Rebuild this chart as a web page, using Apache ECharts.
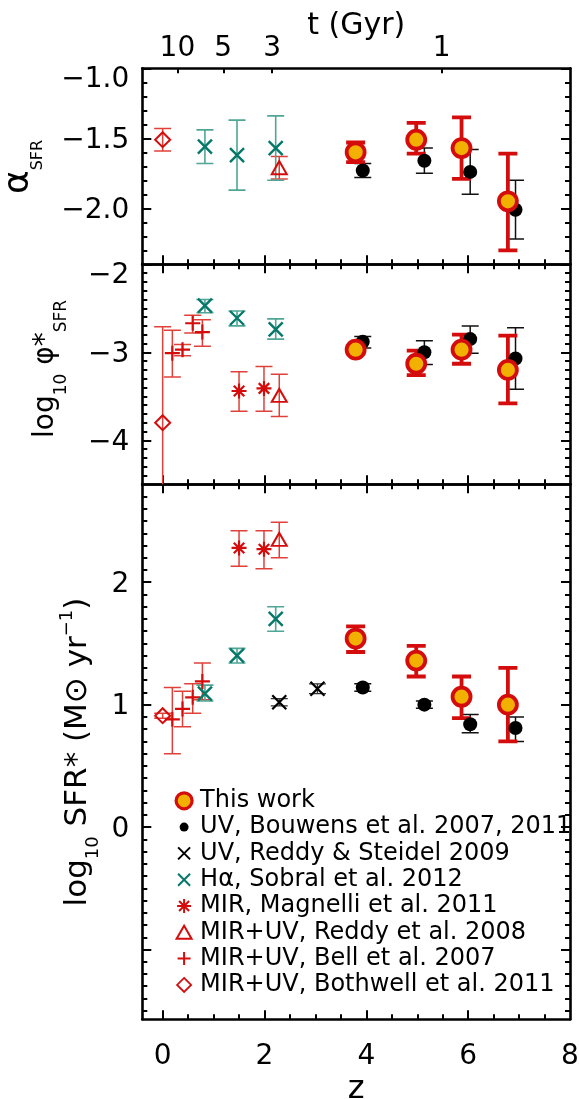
<!DOCTYPE html>
<html><head><meta charset="utf-8">
<script src="https://cdn.jsdelivr.net/npm/echarts@6/dist/echarts.min.js"></script>
<style>html,body{margin:0;padding:0;background:#fff}#c{width:579px;height:1099px}</style>
</head><body><div id="c"></div>
<script>
// ---------- data rows: [z, value, lower, upper] ----------
const thisWorkAlpha = [[3.79,-1.60,-1.67,-1.53],[4.98,-1.51,-1.61,-1.39],[5.87,-1.57,-1.79,-1.35],[6.78,-1.95,-2.30,-1.61]];
const thisWorkPhi   = [[3.79,-2.97,-3.01,-2.93],[4.98,-3.13,-3.26,-2.98],[5.87,-2.97,-3.13,-2.80],[6.78,-3.20,-3.58,-2.81]];
const thisWorkSfr   = [[3.79,1.54,1.43,1.64],[4.98,1.36,1.23,1.48],[5.87,1.065,0.89,1.23],[6.78,1.00,0.70,1.30]];
const bouwensAlpha  = [[3.93,-1.73,-1.78,-1.68],[5.14,-1.66,-1.75,-1.57],[6.04,-1.74,-1.90,-1.58],[6.93,-2.01,-2.22,-1.80]];
const bouwensPhi    = [[3.93,-2.88,-2.95,-2.82],[5.14,-3.00,-3.14,-2.87],[6.04,-2.85,-3.01,-2.70],[6.93,-3.07,-3.42,-2.72]];
const bouwensSfr    = [[3.93,1.14,1.11,1.17],[5.14,1.00,0.97,1.03],[6.04,0.84,0.77,0.92],[6.93,0.81,0.70,0.90]];
const reddySteidelSfr = [[2.29,1.02,0.99,1.05],[3.04,1.13,1.09,1.17]];
const sobralAlpha   = [[0.83,-1.56,-1.68,-1.44],[1.46,-1.62,-1.87,-1.37],[2.22,-1.57,-1.80,-1.34]];
const sobralPhi     = [[0.83,-2.47,-2.55,-2.40],[1.46,-2.61,-2.70,-2.53],[2.22,-2.74,-2.85,-2.62]];
const sobralSfr     = [[0.83,1.09,1.03,1.16],[1.46,1.40,1.34,1.46],[2.22,1.70,1.60,1.80]];
const magnelliPhi   = [[1.50,-3.44,-3.67,-3.22],[1.99,-3.41,-3.67,-3.16]];
const magnelliSfr   = [[1.50,2.28,2.13,2.42],[1.99,2.27,2.11,2.42]];
const reddy08Alpha  = [[2.29,-1.71,-1.79,-1.63]];
const reddy08Phi    = [[2.29,-3.49,-3.73,-3.25]];
const reddy08Sfr    = [[2.29,2.35,2.20,2.49]];
const bellPhi       = [[0.19,-3.01,-3.28,-2.75],[0.39,-2.97,-3.04,-2.91],[0.59,-2.67,-2.78,-2.58],[0.78,-2.77,-2.93,-2.63]];
const bellSfr       = [[0.19,0.88,0.60,1.14],[0.39,0.965,0.82,1.11],[0.59,1.06,0.93,1.17],[0.78,1.19,1.04,1.34]];
const bothwellAlpha = [[0.0,-1.51,-1.59,-1.43]];
const bothwellPhi   = [[0.0,-3.80,-5.0,-2.71]];
const bothwellSfr   = [[0.0,0.91,0.89,0.93]];

// ---------- tick values / labels ----------
const zMajor = [0,2,4,6];
const zLabels = [0,2,4,6,8];
const zMinor = [0.5,1,1.5,2.5,3,3.5,4.5,5,5.5,6.5,7,7.5];
const tPos = [0.29,1.19,2.15,5.48];
const tLabels = ['10','5','3','1'];
const alphaMajor = [-1.0,-1.5,-2.0];
const phiMajor = [-2,-3,-4];
const sfrMajor = [2,1,0,-1];
const sfrLabels = [2,1,0];

const legendNames = ['This work','UV, Bouwens et al. 2007, 2011','UV, Reddy & Steidel 2009','H\u03b1, Sobral et al. 2012',
  'MIR, Magnelli et al. 2011','MIR+UV, Reddy et al. 2008','MIR+UV, Bell et al. 2007','MIR+UV, Bothwell et al. 2011'];

// ---------- styling ----------
const FONT = 'DejaVu Sans';
const RED = '#d40c0c', ORANGE = '#f2b100', TEAL = '#05786a', TEAL_ERR = '#4fa596', RED_ERR = '#e0403a', BLK_ERR = '#111';
const FRAME = 2.6;
const X0 = 142.3, W = 427.7;
const grids = [
  {left:X0, width:W, top:68.3, height:196, containLabel:false, outerBoundsMode:'none'},
  {left:X0, width:W, top:264.3, height:220, containLabel:false, outerBoundsMode:'none'},
  {left:X0, width:W, top:484.3, height:535, containLabel:false, outerBoundsMode:'none'}
];
const yRanges = [[-2.4,-1.0],[-4.5,-2.0],[-1.57,2.8]];
const yMajors = [alphaMajor, phiMajor, sfrMajor];

function minorTicks(lo, hi, step, majors){
  const out=[];
  for (let k=Math.ceil(lo/step-1e-9); k*step<=hi+1e-9; k++){
    const v = +(k*step).toFixed(4);
    if (v>lo+1e-6 && v<hi-1e-6 && !majors.some(m=>Math.abs(m-v)<1e-6)) out.push(v);
  }
  return out;
}
const richLab = {
  n:{fontSize:28, fontFamily:FONT, color:'#000', padding:[5,0,0,0]},
  t:{fontSize:28, fontFamily:FONT, color:'#000', padding:[23,0,0,0]}
};
const yFormat = [
  v => (Math.abs(v+1)<1e-6 ? '{t|' : '{n|') + v.toFixed(1).replace('-','\u2212') + '}',
  v => (Math.abs(v+2)<1e-6 ? '{t|' : '{n|') + String(v).replace('-','\u2212') + '}',
  v => '{n|' + String(v) + '}'
];
const yLabelVals = [alphaMajor, phiMajor, sfrLabels];

function axisBase(g, pos, min, max, ticks, len, lineShow){
  return {type:'value', gridIndex:g, position:pos, min, max, splitLine:{show:false},
    axisLine:{show:lineShow, onZero:false, lineStyle:{color:'#000', width:FRAME}},
    axisTick:{show:true, inside:true, length:len, customValues:ticks, lineStyle:{color:'#000', width:2}},
    axisLabel:{show:false}, axisPointer:{show:false}};
}

const xAxis = [], yAxis = [], AX = [];
for (let g=0; g<3; g++){
  const xi = xAxis.length;
  const bx = axisBase(g,'bottom',-0.4,8.0,zMajor,9,true);
  if (g===2){
    bx.axisLabel = {show:true, customValues:zLabels, margin:23, color:'#000', fontSize:28, fontFamily:FONT};
    bx.name = 'z'; bx.nameLocation = 'middle'; bx.nameGap = 54; bx.nameMoveOverlap = false;
    bx.nameTextStyle = {fontSize:32, fontFamily:FONT, color:'#000'};
  }
  xAxis.push(bx);
  xAxis.push(axisBase(g,'bottom',-0.4,8.0,zMinor,5,false));
  if (g===0){
    const tx = axisBase(g,'top',-0.4,8.0,tPos,5,true);
    tx.axisLabel = {show:true, customValues:tPos, margin:6, color:'#000', fontSize:28, fontFamily:FONT,
      formatter: v => { let b=0; tPos.forEach((p,i)=>{ if (Math.abs(p-v)<Math.abs(tPos[b]-v)) b=i; }); return tLabels[b]; }};
    tx.name = 't (Gyr)'; tx.nameLocation = 'middle'; tx.nameGap = 27; tx.nameMoveOverlap = false;
    tx.nameTextStyle = {fontSize:30, fontFamily:FONT, color:'#000'};
    xAxis.push(tx);
  } else {
    xAxis.push(axisBase(g,'top',-0.4,8.0,zMajor,9,true));
    xAxis.push(axisBase(g,'top',-0.4,8.0,zMinor,5,false));
  }
  const yi = yAxis.length;
  const [lo,hi] = yRanges[g];
  const mn = minorTicks(lo,hi,0.1,yMajors[g]);
  const ly = axisBase(g,'left',lo,hi,yMajors[g],9,true);
  ly.axisLabel = {show:true, customValues:yLabelVals[g], margin:13, formatter:yFormat[g], rich:richLab};
  yAxis.push(ly);
  yAxis.push(axisBase(g,'left',lo,hi,mn,5,false));
  yAxis.push(axisBase(g,'right',lo,hi,yMajors[g],9,true));
  yAxis.push(axisBase(g,'right',lo,hi,mn,5,false));
  AX.push({x:xi, y:yi});
}

// ---------- markers ----------
const P_X = 'path://M0,0L10,10M10,0L0,10';
const P_AST = 'path://M5,0L5,10M0,5L10,5M1.5,1.5L8.5,8.5M8.5,1.5L1.5,8.5';
const P_TRI = 'path://M5,0L10,8.66L0,8.66Z';
const P_PLUS = 'path://M5,0L5,10M0,5L10,5';
const P_DIA = 'path://M5,0L10,5L5,10L0,5Z';
const NOFILL = 'rgba(0,0,0,0)';
const M = {
  thisWork: {symbol:'circle', size:18, style:{color:ORANGE, borderColor:RED, borderWidth:3.8, opacity:1}},
  bouwens:  {symbol:'circle', size:14, style:{color:'#000', opacity:1}},
  rs:       {symbol:P_X, size:14, style:{color:NOFILL, borderColor:'#000', borderWidth:2.2, opacity:1}},
  sobral:   {symbol:P_X, size:14, style:{color:NOFILL, borderColor:TEAL, borderWidth:2.4, opacity:1}},
  magnelli: {symbol:P_AST, size:15, style:{color:NOFILL, borderColor:RED, borderWidth:2.2, opacity:1}},
  reddy08:  {symbol:P_TRI, size:[15,13], style:{color:NOFILL, borderColor:RED, borderWidth:2, opacity:1}},
  bell:     {symbol:P_PLUS, size:15, style:{color:NOFILL, borderColor:RED, borderWidth:2.2, opacity:1}},
  bothwell: {symbol:P_DIA, size:15, style:{color:NOFILL, borderColor:RED, borderWidth:2, opacity:1}}
};
const E = {
  thisWork: {color:RED, width:3.8, cap:9.5},
  bouwens:  {color:BLK_ERR, width:1.5, cap:8.5},
  rs:       {color:'#333', width:1.3, cap:8.5},
  sobral:   {color:TEAL_ERR, width:1.6, cap:8.5},
  magnelli: {color:RED_ERR, width:1.5, cap:8.5},
  reddy08:  {color:RED_ERR, width:1.5, cap:8.5},
  bell:     {color:RED_ERR, width:1.5, cap:8.5},
  bothwell: {color:RED_ERR, width:1.5, cap:8.5}
};

function errRender(e){
  return function(params, api){
    const x = api.value(0), lo = api.value(1), hi = api.value(2);
    const a = api.coord([x, lo]), b = api.coord([x, hi]);
    const st = {stroke:e.color, lineWidth:e.width, fill:null};
    return {type:'group', children:[
      {type:'line', shape:{x1:a[0], y1:a[1], x2:b[0], y2:b[1]}, style:st},
      {type:'line', shape:{x1:a[0]-e.cap, y1:a[1], x2:a[0]+e.cap, y2:a[1]}, style:st},
      {type:'line', shape:{x1:b[0]-e.cap, y1:b[1], x2:b[0]+e.cap, y2:b[1]}, style:st}
    ]};
  };
}
const series = [];
function addSet(name, key, rows, g){
  series.push({type:'custom', name:name+' (err)', xAxisIndex:AX[g].x, yAxisIndex:AX[g].y, clip:true, silent:true,
    data:rows.map(r=>[r[0],r[2],r[3]]), encode:{x:0, y:[1,2]}, renderItem:errRender(E[key])});
  series.push({type:'scatter', name, xAxisIndex:AX[g].x, yAxisIndex:AX[g].y, silent:true,
    data:rows.map(r=>[r[0],r[1]]), symbol:M[key].symbol, symbolSize:M[key].size, itemStyle:M[key].style});
}
const N = legendNames;
[[bothwellAlpha,0],[bothwellPhi,1],[bothwellSfr,2]].forEach(([d,g])=>addSet(N[7],'bothwell',d,g));
[[bellPhi,1],[bellSfr,2]].forEach(([d,g])=>addSet(N[6],'bell',d,g));
[[reddy08Alpha,0],[reddy08Phi,1],[reddy08Sfr,2]].forEach(([d,g])=>addSet(N[5],'reddy08',d,g));
[[magnelliPhi,1],[magnelliSfr,2]].forEach(([d,g])=>addSet(N[4],'magnelli',d,g));
[[sobralAlpha,0],[sobralPhi,1],[sobralSfr,2]].forEach(([d,g])=>addSet(N[3],'sobral',d,g));
addSet(N[2],'rs',reddySteidelSfr,2);
[[bouwensAlpha,0],[bouwensPhi,1],[bouwensSfr,2]].forEach(([d,g])=>addSet(N[1],'bouwens',d,g));
[[thisWorkAlpha,0],[thisWorkPhi,1],[thisWorkSfr,2]].forEach(([d,g])=>addSet(N[0],'thisWork',d,g));

// ---------- legend icons (16x16 box) ----------
const B = 'M0,0M16,16';
const legendData = [
  {name:N[0], icon:'circle', itemStyle:{color:ORANGE, borderColor:RED, borderWidth:3.2, opacity:1}},
  {name:N[1], icon:'path://'+B+'M3.5,8A4.5,4.5,0,1,0,12.5,8A4.5,4.5,0,1,0,3.5,8Z', itemStyle:{color:'#000', borderWidth:0, opacity:1}},
  {name:N[2], icon:'path://'+B+'M2,2L14,14M14,2L2,14', itemStyle:{color:NOFILL, borderColor:'#000', borderWidth:2, opacity:1}},
  {name:N[3], icon:'path://'+B+'M2,2L14,14M14,2L2,14', itemStyle:{color:NOFILL, borderColor:TEAL, borderWidth:2, opacity:1}},
  {name:N[4], icon:'path://'+B+'M8,1L8,15M1,8L15,8M3,3L13,13M13,3L3,13', itemStyle:{color:NOFILL, borderColor:RED, borderWidth:2, opacity:1}},
  {name:N[5], icon:'path://'+B+'M8,1.5L15.5,14.5L0.5,14.5Z', itemStyle:{color:NOFILL, borderColor:RED, borderWidth:2, opacity:1}},
  {name:N[6], icon:'path://'+B+'M8,1.5L8,14.5M1.5,8L14.5,8', itemStyle:{color:NOFILL, borderColor:RED, borderWidth:2, opacity:1}},
  {name:N[7], icon:'path://'+B+'M8,1L15,8L8,15L1,8Z', itemStyle:{color:NOFILL, borderColor:RED, borderWidth:1.8, opacity:1}}
];

const chart = echarts.init(document.getElementById('c'), null, {renderer:'canvas'});
chart.setOption({
  animation:false,
  backgroundColor:'#fff',
  grid:grids,
  xAxis, yAxis, series,
  legend:{data:legendData, orient:'vertical', left:169.5, top:783.8, itemWidth:16, itemHeight:16, itemGap:2.3,
    selectedMode:false, textStyle:{fontFamily:FONT, fontSize:24, color:'#000', padding:[0,0,0,3]}},
  graphic:[
    {type:'text', x:19, y:167, rotation:Math.PI/2, silent:true,
      style:{text:'{a|\u03b1}{s|SFR}', align:'center', verticalAlign:'middle',
        rich:{a:{fontFamily:FONT, fontSize:36, fill:'#000', verticalAlign:'middle'},
              s:{fontFamily:FONT, fontSize:16, fill:'#000', padding:[37,0,0,0], verticalAlign:'middle'}}}},
    {type:'text', x:46, y:369, rotation:Math.PI/2, silent:true,
      style:{text:'{a|log}{s|10}{a| \u03c6*}{s|SFR}', align:'center', verticalAlign:'middle',
        rich:{a:{fontFamily:FONT, fontSize:28, fill:'#000', verticalAlign:'middle'},
              s:{fontFamily:FONT, fontSize:17, fill:'#000', padding:[31,0,0,0], verticalAlign:'middle'}}}},
    {type:'text', x:78, y:752, rotation:Math.PI/2, silent:true,
      style:{text:'{a|log}{s|10}{a| SFR* (M\u2299 yr}{p|\u22121}{a|)}', align:'center', verticalAlign:'middle',
        rich:{a:{fontFamily:FONT, fontSize:31, fill:'#000', verticalAlign:'middle'},
              s:{fontFamily:FONT, fontSize:18, fill:'#000', padding:[30,0,0,0], verticalAlign:'middle'},
              p:{fontFamily:FONT, fontSize:18, fill:'#000', padding:[0,0,22,0], verticalAlign:'middle'}}}}
  ]
});
</script></body></html>
